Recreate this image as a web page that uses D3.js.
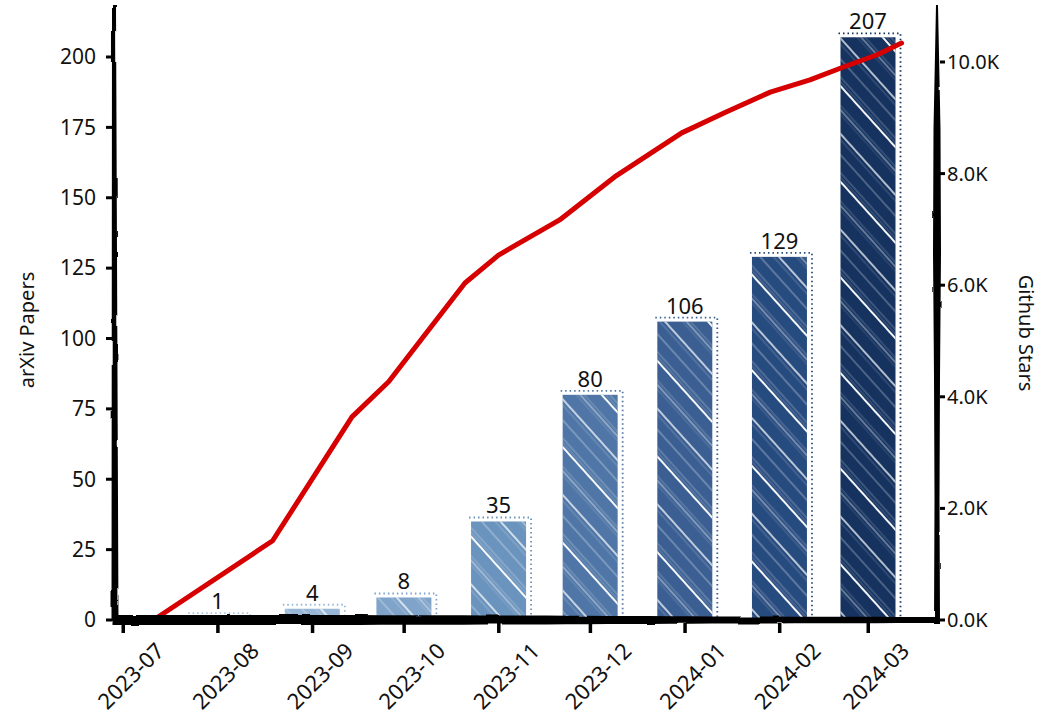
<!DOCTYPE html>
<html>
<head>
<meta charset="utf-8">
<script src="https://cdn.jsdelivr.net/npm/d3@7"></script>
<style>
  html, body { margin: 0; padding: 0; background: #ffffff; }
  svg { display: block; }
  text { font-family: "Noto Sans", "DejaVu Sans", sans-serif; fill: #111; }
</style>
</head>
<body>
<svg id="chart" width="1058" height="718"></svg>
<script>
// Monthly arXiv paper counts (bars, left axis)
const months = ["2023-07", "2023-08", "2023-09", "2023-10", "2023-11", "2023-12", "2024-01", "2024-02", "2024-03"];
const papers = [0, 1, 4, 8, 35, 80, 106, 129, 207];

// Cumulative GitHub stars (line, right axis)
const starDates = ["2023-07-11", "2023-08-19", "2023-09-14", "2023-09-26", "2023-10-07", "2023-10-21",
                   "2023-11-01", "2023-11-21", "2023-12-09", "2023-12-31", "2024-01-14", "2024-01-29",
                   "2024-02-11", "2024-02-22", "2024-03-04", "2024-03-12"];
const starCounts = [0, 1420, 3640, 4270, 5050, 6040, 6540, 7170, 7940, 8730, 9090, 9460, 9680, 9910, 10130, 10340];

// Axis ticks
const paperTicks = [0, 25, 50, 75, 100, 125, 150, 175, 200];
const starTicks = [0, 2000, 4000, 6000, 8000, 10000];

const svg = d3.select("#chart");
const parseDay = d3.timeParse("%Y-%m-%d");
const parseMonth = d3.timeParse("%Y-%m");

const plotTop = 5, plotBottom = 620, leftX = 115, rightX = 937;

const x = d3.scaleTime()
  .domain([parseMonth(months[0]), parseMonth(months[months.length - 1])])
  .range([123, 868]);
const yL = d3.scaleLinear().domain([0, 200]).range([plotBottom, 57]);
const yR = d3.scaleLinear().domain([0, 10000]).range([plotBottom, 62]);

const barW = 55;
const barColor = d3.scaleLinear()
  .domain([0, 8, 35, 80, 106, 129, 207])
  .range(["#b0c8e0", "#7fa3c9", "#6b93bd", "#4f76a6", "#3a5f92", "#284b7f", "#12305e"]);

// ---- defs: wobble filters + hatch pattern ----
const defs = svg.append("defs");
const wob = defs.append("filter").attr("id", "wobble").attr("x", "-5%").attr("y", "-5%").attr("width", "110%").attr("height", "110%");
wob.append("feTurbulence").attr("type", "fractalNoise").attr("baseFrequency", 0.03).attr("numOctaves", 2).attr("seed", 3).attr("result", "n");
wob.append("feDisplacementMap").attr("in", "SourceGraphic").attr("in2", "n").attr("scale", 2.5)
  .attr("xChannelSelector", "R").attr("yChannelSelector", "G");

const wobSoft = defs.append("filter").attr("id", "wobbleSoft").attr("x", "-5%").attr("y", "-5%").attr("width", "110%").attr("height", "110%");
wobSoft.append("feTurbulence").attr("type", "fractalNoise").attr("baseFrequency", 0.05).attr("numOctaves", 1).attr("seed", 8).attr("result", "n");
wobSoft.append("feDisplacementMap").attr("in", "SourceGraphic").attr("in2", "n").attr("scale", 1.5)
  .attr("xChannelSelector", "R").attr("yChannelSelector", "G");

const wobLine = defs.append("filter").attr("id", "wobbleLine").attr("x", "-5%").attr("y", "-5%").attr("width", "110%").attr("height", "110%");
wobLine.append("feTurbulence").attr("type", "fractalNoise").attr("baseFrequency", 0.012).attr("numOctaves", 1).attr("seed", 5).attr("result", "n");
wobLine.append("feDisplacementMap").attr("in", "SourceGraphic").attr("in2", "n").attr("scale", 1.5)
  .attr("xChannelSelector", "R").attr("yChannelSelector", "G");

// sparse white sketch strokes running down-right
const hatch = defs.append("pattern").attr("id", "hatch")
  .attr("patternUnits", "userSpaceOnUse").attr("width", 64).attr("height", 64)
  .attr("patternTransform", "rotate(48)");
const hatchLines = [
  { o: 3, w: 0.8, a: 0.45 }, { o: 6, w: 0.7, a: 0.35 }, { o: 9, w: 1.8, a: 0.95 },
  { o: 22, w: 0.7, a: 0.4 }, { o: 25, w: 1.0, a: 0.7 }, { o: 28, w: 0.6, a: 0.3 },
  { o: 41, w: 1.6, a: 0.9 }, { o: 45, w: 0.7, a: 0.35 }, { o: 55, w: 0.9, a: 0.55 }
];
hatch.selectAll("line").data(hatchLines).join("line")
  .attr("x1", 0).attr("x2", 64)
  .attr("y1", d => d.o).attr("y2", d => d.o)
  .attr("stroke", "#ffffff").attr("stroke-width", d => d.w).attr("stroke-opacity", d => d.a);

// ---- bars ----
const barData = months.map((m, i) => ({ date: parseMonth(m), v: papers[i] })).filter(d => d.v > 0);

const bars = svg.append("g").attr("filter", "url(#wobbleSoft)");
// dotted sketch outline, offset up and right
bars.selectAll("path.sketch").data(barData).join("path")
  .attr("class", "sketch")
  .attr("d", d => {
    const x0 = x(d.date) - barW / 2, x1 = x(d.date) + barW / 2, top = yL(d.v);
    return `M${x0 - 2},${top - 4}H${x1 + 5}V${plotBottom}`;
  })
  .attr("fill", "none")
  .attr("stroke", d => barColor(d.v))
  .attr("stroke-width", 1.8)
  .attr("stroke-dasharray", "1.5,3");

bars.selectAll("rect.fill").data(barData).join("rect")
  .attr("class", "fill")
  .attr("x", d => x(d.date) - barW / 2)
  .attr("width", barW)
  .attr("y", d => yL(d.v))
  .attr("height", d => plotBottom - yL(d.v))
  .attr("fill", d => barColor(d.v));

bars.selectAll("rect.hatch").data(barData).join("rect")
  .attr("class", "hatch")
  .attr("x", d => x(d.date) - barW / 2)
  .attr("width", barW)
  .attr("y", d => yL(d.v))
  .attr("height", d => plotBottom - yL(d.v))
  .attr("fill", "url(#hatch)");

// value labels
svg.append("g").selectAll("text").data(barData).join("text")
  .attr("x", d => x(d.date))
  .attr("y", d => yL(d.v) - 8)
  .attr("text-anchor", "middle")
  .attr("font-size", 22)
  .text(d => d.v);

// ---- star line ----
const starData = starDates.map((d, i) => ({ date: parseDay(d), v: starCounts[i] }));
svg.append("path")
  .datum(starData)
  .attr("d", d3.line().x(d => x(d.date)).y(d => yR(d.v)))
  .attr("fill", "none")
  .attr("stroke", "#d60000")
  .attr("stroke-width", 5)
  .attr("stroke-linejoin", "round")
  .attr("stroke-linecap", "round")
  .attr("filter", "url(#wobbleLine)");

// ---- hand-drawn axis strokes (tapered) ----
function taper(x0, y0, x1, y1, widths) {
  const n = 40, dx = x1 - x0, dy = y1 - y0, len = Math.hypot(dx, dy);
  const nx = -dy / len, ny = dx / len;
  const wAt = d3.scaleLinear().domain(widths.map((_, i) => i / (widths.length - 1))).range(widths);
  const side1 = [], side2 = [];
  for (let i = 0; i <= n; i++) {
    const t = i / n, w = wAt(t) / 2;
    const px = x0 + dx * t, py = y0 + dy * t;
    side1.push([px + nx * w, py + ny * w]);
    side2.push([px - nx * w, py - ny * w]);
  }
  return d3.line()(side1.concat(side2.reverse())) + "Z";
}

const axes = svg.append("g").attr("fill", "#000").attr("filter", "url(#wobble)");
axes.append("path").attr("d", taper(leftX - 1, plotTop, leftX, plotBottom + 5, [4, 5, 6, 7]));
axes.append("path").attr("d", taper(leftX - 3, plotBottom, rightX + 2, plotBottom, [10, 10, 9, 7, 6]));
axes.append("path").attr("d", taper(rightX, plotTop, rightX, plotBottom + 4, [2, 7, 8, 6, 5, 6]));

// left ticks + labels
const lt = svg.append("g");
lt.selectAll("rect").data(paperTicks).join("rect")
  .attr("x", leftX - 9).attr("y", d => yL(d) - 1.5).attr("width", 6).attr("height", 3).attr("fill", "#000");
lt.selectAll("text").data(paperTicks).join("text")
  .attr("x", leftX - 19).attr("y", d => yL(d)).attr("dy", "0.35em")
  .attr("text-anchor", "end").attr("font-size", 21)
  .text(d => d);

// right ticks + labels
const rt = svg.append("g");
rt.selectAll("rect").data(starTicks).join("rect")
  .attr("x", rightX + 3).attr("y", d => yR(d) - 1.5).attr("width", 5).attr("height", 3).attr("fill", "#000");
rt.selectAll("text").data(starTicks).join("text")
  .attr("x", rightX + 10).attr("y", d => yR(d)).attr("dy", "0.35em")
  .attr("text-anchor", "start").attr("font-size", 20)
  .text(d => d3.format(".1f")(d / 1000) + "K");

// bottom ticks + rotated month labels
const bt = svg.append("g");
const monthDates = months.map(m => parseMonth(m));
bt.selectAll("rect").data(monthDates).join("rect")
  .attr("x", d => x(d) - 1.5).attr("y", plotBottom + 3).attr("width", 3.5).attr("height", 10).attr("fill", "#000");
bt.selectAll("text").data(monthDates).join("text")
  .attr("transform", d => `translate(${x(d) + 8},676) rotate(-45)`)
  .attr("text-anchor", "middle").attr("dy", "0.35em")
  .attr("font-size", 22)
  .text(d => d3.timeFormat("%Y-%m")(d));

// axis titles
svg.append("text")
  .attr("transform", `translate(27,330) rotate(-90)`)
  .attr("text-anchor", "middle").attr("dy", "0.35em")
  .attr("font-size", 20)
  .text("arXiv Papers");
svg.append("text")
  .attr("transform", `translate(1026,333) rotate(90)`)
  .attr("text-anchor", "middle").attr("dy", "0.35em")
  .attr("font-size", 20)
  .text("Github Stars");
</script>
</body>
</html>
